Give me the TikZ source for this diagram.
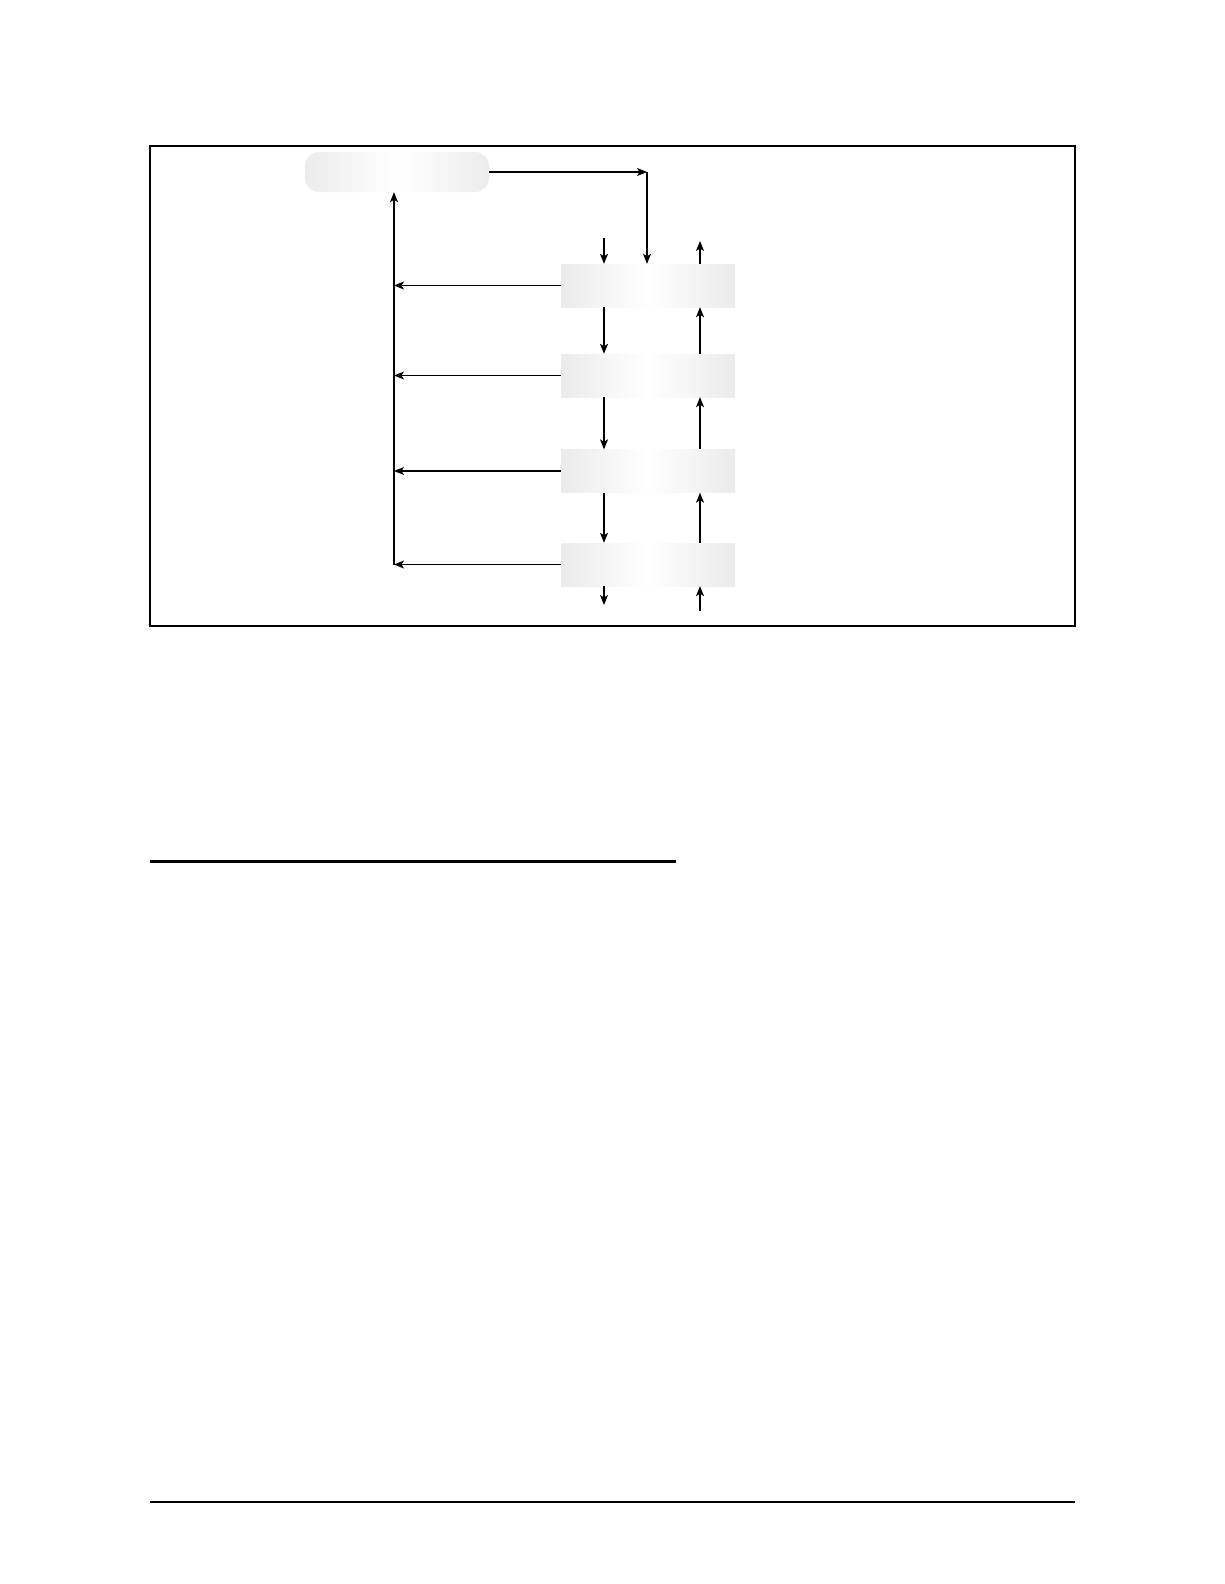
\documentclass[tikz,border=0pt]{standalone}
\usetikzlibrary{arrows.meta,calc}
\begin{document}
\begin{tikzpicture}[x=1pt,y=-1pt,
  stagebox/.style={draw=none,minimum width=174pt,minimum height=43pt,inner sep=0pt,
    shade,left color=gray!16,right color=gray!16,middle color=white},
  topbox/.style={draw=none,minimum width=184pt,minimum height=40pt,inner sep=0pt,rounded corners=14pt,
    shade,left color=gray!15,right color=gray!15,middle color=white},
  conn/.style={line width=1.1pt,-{Stealth[length=10pt,width=8pt,inset=2.5pt]}},
  plain/.style={line width=1.1pt},
  frame/.style={line width=1.6pt}]
\useasboundingbox (0,0) rectangle (1224,1584);
\fill[white] (0,0) rectangle (1224,1584);
% frame
\draw[frame] (150,146) rectangle (1075,626);
% nodes
\node[topbox] (top) at (397,172) {};
\node[stagebox] (b1) at (648,285.5) {};
\node[stagebox] (b2) at (648,375.5) {};
\node[stagebox] (b3) at (648,471) {};
\node[stagebox] (b4) at (648,564.5) {};
% coordinates
\coordinate (c1) at (647,172);
\coordinate (inD) at (604,238);
\coordinate (outU) at (700,241);
\coordinate (botD) at (604,605);
\coordinate (botU) at (700,611);
\coordinate (bus) at (394,564.5);
% top to first box
\draw[conn] (top.east |- c1) -- (c1);
\draw[plain] (c1) -- ++(0,2);
\draw[conn] (c1) -- (c1 |- b1.north);
% inputs/outputs above box1
\draw[conn] (inD) -- (inD |- b1.north);
\draw[conn] (outU |- b1.north) -- (outU);
% between boxes
\draw[conn] (inD |- b1.south) -- (inD |- b2.north);
\draw[conn] (outU |- b2.north) -- (outU |- b1.south);
\draw[conn] (inD |- b2.south) -- (inD |- b3.north);
\draw[conn] (outU |- b3.north) -- (outU |- b2.south);
\draw[conn] (inD |- b3.south) -- (inD |- b4.north);
\draw[conn] (outU |- b4.north) -- (outU |- b3.south);
% below box4
\draw[conn] (inD |- b4.south) -- (botD);
\draw[conn] (botU) -- (outU |- b4.south);
% left feedback bus
\draw[conn] (b1.west) -- (bus |- b1.west);
\draw[conn] (b2.west) -- (bus |- b2.west);
\draw[conn] (b3.west) -- (bus |- b3.west);
\draw[conn] (b4.west) -- (bus |- b4.west);
\draw[conn] (bus) -- (bus |- top.south);
% page rules
\draw[line width=3pt] (150,861) -- (676,861);
\draw[line width=1.4pt] (150,1502) -- (1075,1502);
\end{tikzpicture}
\end{document}
